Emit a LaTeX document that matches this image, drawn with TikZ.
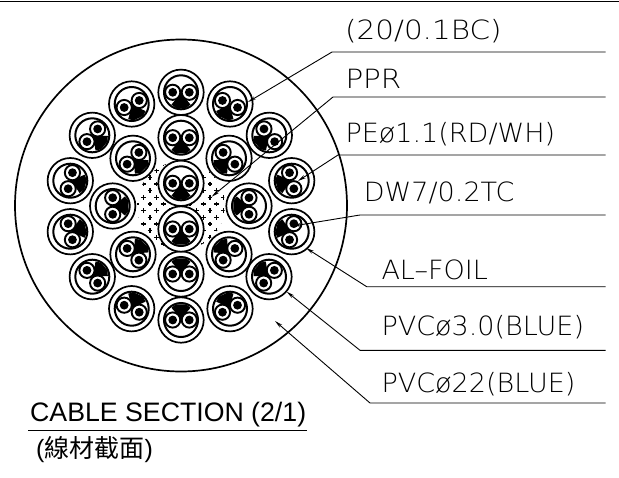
\documentclass[tikz,border=0pt]{standalone}
\usepackage{fontspec}
\usetikzlibrary{arrows.meta}
\setmainfont{Liberation Sans}
\newfontfamily\cadfont{DejaVu Sans ExtraLight}[FakeStretch=1.02]
\newfontfamily\widecadfont{DejaVu Sans ExtraLight}[FakeStretch=1.11]
\newfontfamily\cjkfont{Noto Sans CJK TC}
\tikzset{
	sheath/.style={draw=black,fill=white,line width=1.7pt},
	foil/.style={draw=black,fill=white,line width=2pt},
	wire/.style={draw=black,fill=white,line width=1.9pt},
	leader/.style={draw=black,line width=0.9pt},
	leadertip/.style={leader,{Stealth[length=8pt,width=3.5pt]}-},
	callout/.style={anchor=base west,inner sep=0pt,font=\cadfont\fontsize{26.5}{26.5}\selectfont},
	widecallout/.style={callout,font=\widecadfont\fontsize{26.5}{26.5}\selectfont},
	titletext/.style={anchor=base west,inner sep=0pt,font=\fontsize{26.7}{26.7}\selectfont}
}

\begin{document}
\begin{tikzpicture}[x=1pt,y=-1pt]
\useasboundingbox (0,0) rectangle (619,477);
\def\rjacket{166}
\def\rsheath{22.7}
\def\rfoil{17}
\def\rwire{7.6}
\def\rcore{4.4}
\coordinate (O) at (181,205.5);
\draw[black,line width=1.2pt] (0,1.5) -- (619,1.5);
\draw[sheath] (O) circle [radius=\rjacket];

% filler between the inner cables
\begin{scope}
\clip (O) circle [radius=44];
\foreach \i in {-3,...,14}{
	\foreach \j in {-5,...,12}{
		\pgfmathtruncatemacro{\k}{mod(\i+\j+100,2)}
		\ifnum\k=0
			\draw[black,line width=1.1pt] ({143.3+6.67*\i-2.4},{184+6.67*\j}) -- ++(4.8,0);
			\draw[black,line width=1.1pt] ({143.3+6.67*\i},{184+6.67*\j-2.4}) -- ++(0,4.8);
		\fi
	}
}
\end{scope}

% x / y / direction of the drain wires
\foreach \cx/\cy/\a in {181/92.3/90,230/104/115,269.3/135.3/140,291.7/180.7/165,
	291.7/231.7/195,269/276.7/220,230/308.7/245,181/320/270,131.7/308.7/295,
	92.3/276.7/320,70.3/231.7/345,70.3/180.7/15,92.3/135.3/40,131.7/104/65,
	181/137.7/90,229/158.3/135,249/206/180,229/254.3/225,181/274/270,
	133/254.3/315,112.7/206/0,133/158.3/45,181/183.3/90,181/229/90}{
	\begin{scope}[shift={(\cx,\cy)}]
	\draw[sheath] (0,0) circle [radius=\rsheath];
	\draw[foil] (0,0) circle [radius=\rfoil];
	\fill[black] (\a:1) -- ({\a+38}:15.5) -- ({\a+18}:16.5) -- ({\a-18}:16.5) -- ({\a-38}:15.5) -- cycle;
	\draw[wire] ({\a+90}:8.3) circle [radius=\rwire];
	\draw[wire] ({\a-90}:8.3) circle [radius=\rwire];
	\fill[black] ({\a+90}:8.3) circle [radius=\rcore];
	\fill[black] ({\a-90}:8.3) circle [radius=\rcore];
	\end{scope}
}

\node[widecallout] (braid) at (345,39.5) {(20/0.1BC)};
\node[widecallout] (ppr) at (345.3,88.7) {PPR};
\node[callout] (pe) at (345.3,142.3) {PEø1.1(RD/WH)};
\node[callout] (drain) at (363.7,201.7) {DW7/0.2TC};
\node[callout] (alfoil) at (381.3,279.3) {AL–FOIL};
\node[callout] (pvcin) at (381.3,335) {PVCø3.0(BLUE)};
\node[callout] (pvcout) at (381.3,392.3) {PVCø22(BLUE)};

\coordinate (braidtip) at (248,102);
\coordinate (pprtip) at (211.7,196.7);
\coordinate (petip) at (298,181);
\coordinate (draintip) at (293,226);
\coordinate (foiltip) at (306,248);
\coordinate (pvcintip) at (286.7,291.7);
\coordinate (pvcouttip) at (275,321);

\foreach \tip/\kx/\ky in {braidtip/332/52,pprtip/333/97,petip/338/155,draintip/360/215,
	foiltip/366.7/286.7,pvcintip/360/350.3,pvcouttip/370/403}{
	\draw[leadertip] (\tip) -- (\kx,\ky) -- (605.7,\ky);
}

\node[titletext] (sectitle) at (30,421.7) {CABLE SECTION (2/1)};
\draw[black,line width=1pt] (28,430) -- (307,430);
\node[anchor=base west,inner sep=0pt,font=\fontsize{25}{25}\selectfont] (secsub) at (36,457) {(\cjkfont 線材截面\normalfont)};
\end{tikzpicture}
\end{document}
